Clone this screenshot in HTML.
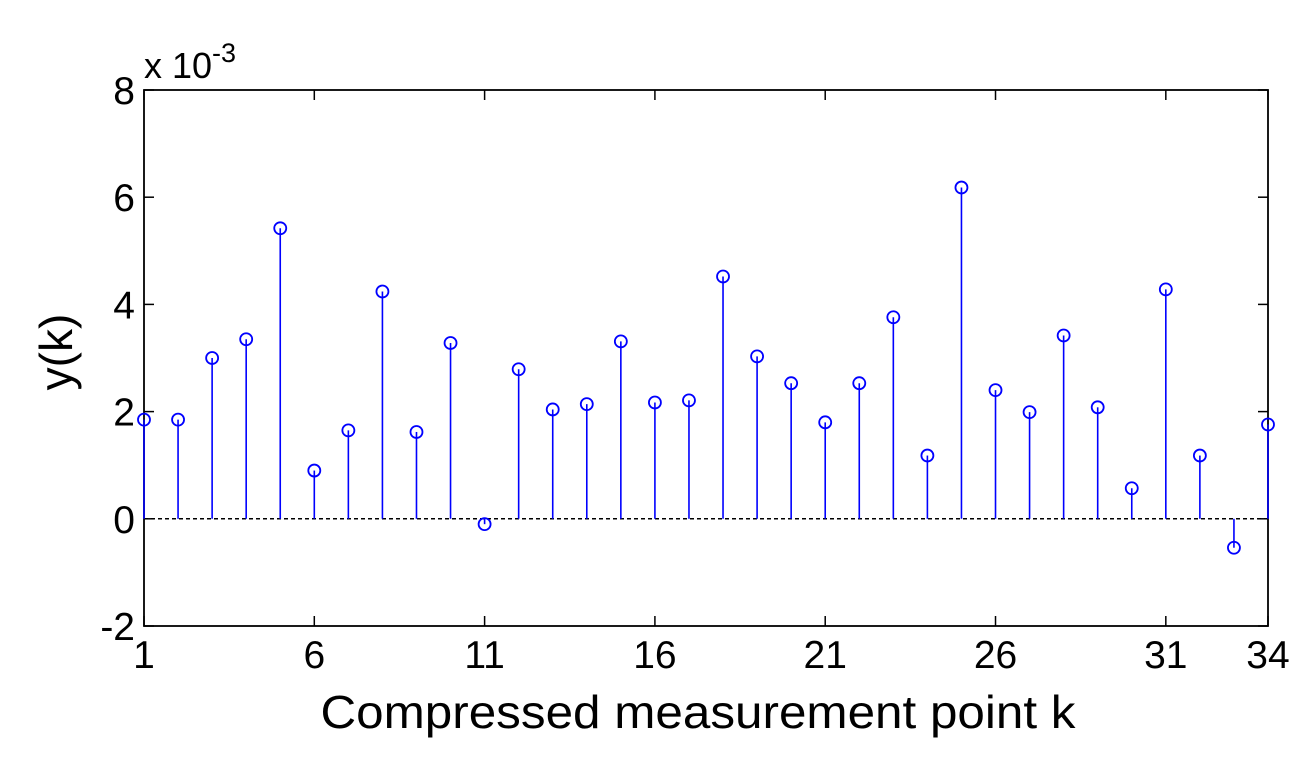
<!DOCTYPE html>
<html><head><meta charset="utf-8"><style>
html,body{margin:0;padding:0;background:#fff;}
svg{display:block;font-family:"Liberation Sans",Arial,sans-serif;}
</style></head><body>
<svg id="chart" width="1310" height="757">
<rect x="144" y="90" width="1124" height="536" fill="#fff" stroke="#000" stroke-width="1.8"/>
<g id="ticks"></g>
<line id="zero" stroke="#000" stroke-dasharray="4,3" stroke-width="1.5"/>
<g id="stems"></g>
<text x="144" y="78" font-size="36">x 10<tspan dy="-16" font-size="27">-3</tspan></text>
<text x="698" y="728" font-size="46" text-anchor="middle" textLength="755" lengthAdjust="spacingAndGlyphs">Compressed measurement point k</text>
<text transform="translate(72,352) rotate(-90)" font-size="46" text-anchor="middle">y(k)</text>
</svg>
<script>
const kValues=[1,2,3,4,5,6,7,8,9,10,11,12,13,14,15,16,17,18,19,20,21,22,23,24,25,26,27,28,29,30,31,32,33,34];
const yValues=[1.85,1.85,3.0,3.35,5.42,0.9,1.65,4.24,1.62,3.28,-0.1,2.79,2.04,2.14,3.31,2.17,2.21,4.52,3.03,2.53,1.8,2.53,3.76,1.18,6.18,2.4,1.99,3.42,2.08,0.57,4.28,1.18,-0.54,1.76];
const xTicks=[1,6,11,16,21,26,31,34];
const yTicks=[-2,0,2,4,6,8];
const NS="http://www.w3.org/2000/svg";
const L=144,R=1268,T=90,B=626;
const xS=k=>L+(k-1)/(34-1)*(R-L);
const yS=v=>B-(v+2)/10*(B-T);
const tk=document.getElementById('ticks');
function mk(tag,attrs,parent){const e=document.createElementNS(NS,tag);for(const a in attrs)e.setAttribute(a,attrs[a]);parent.appendChild(e);return e;}
xTicks.forEach(t=>{
  mk('line',{x1:xS(t),x2:xS(t),y1:B,y2:B-10,stroke:'#000','stroke-width':1.5},tk);
  mk('line',{x1:xS(t),x2:xS(t),y1:T,y2:T+10,stroke:'#000','stroke-width':1.5},tk);
  const tx=mk('text',{x:xS(t),y:B+42,'font-size':39,'text-anchor':'middle'},tk);
  tx.textContent=t;
  
  
});
yTicks.forEach(t=>{
  mk('line',{x1:L,x2:L+10,y1:yS(t),y2:yS(t),stroke:'#000','stroke-width':1.5},tk);
  mk('line',{x1:R,x2:R-10,y1:yS(t),y2:yS(t),stroke:'#000','stroke-width':1.5},tk);
  const tx=mk('text',{x:L-9,y:yS(t)+14,'font-size':39,'text-anchor':'end'},tk);
  tx.textContent=t;
  
  
});
const z=document.getElementById('zero');
z.setAttribute('x1',L);z.setAttribute('x2',R);z.setAttribute('y1',yS(0));z.setAttribute('y2',yS(0));
const st=document.getElementById('stems');
kValues.forEach((k,i)=>{
  const g=mk('g',{},st);
  
  
  mk('line',{x1:xS(k),x2:xS(k),y1:yS(0),y2:yS(yValues[i]),stroke:'#0000ff','stroke-width':1.6},g);
  mk('circle',{cx:xS(k),cy:yS(yValues[i]),r:6,fill:'none',stroke:'#0000ff','stroke-width':1.8},g);
});
</script>
</body></html>
